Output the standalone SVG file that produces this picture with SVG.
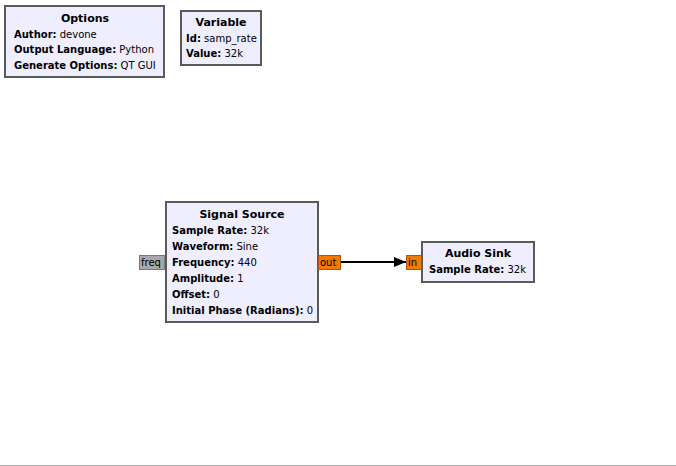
<svg xmlns="http://www.w3.org/2000/svg" width="676" height="466" viewBox="0 0 676 466">
<style>
.blk{fill:#eeeeff;stroke:#5a5a5a;stroke-width:2}
text{font-family:"DejaVu Sans",sans-serif;font-size:10px;fill:#000}
.t{font-weight:bold;text-anchor:middle;font-size:11px}
.k{font-weight:bold}
.pg{fill:#a8a8a8;stroke:#7a7a7a;stroke-width:1}
.po{fill:#f37a00;stroke:#b0501a;stroke-width:1}
.pt{font-size:10px}
</style>
<defs>
<marker id="ah" markerWidth="12" markerHeight="10" refX="12" refY="5" orient="auto" markerUnits="userSpaceOnUse">
<path d="M0,0 L12,5 L0,10 z" fill="#000"/>
</marker>
</defs>
<rect x="0" y="0" width="676" height="466" fill="#fff"/>
<line x1="0" y1="465.5" x2="676" y2="465.5" stroke="#aaaaaa" stroke-width="1"/>
<g id="options">
<rect class="blk" x="5" y="6" width="159" height="71"/>
<text class="t" x="85" y="22">Options</text>
<text x="14" y="38"><tspan class="k">Author:</tspan> devone</text>
<text x="14" y="53"><tspan class="k">Output Language:</tspan> Python</text>
<text x="14" y="69"><tspan class="k">Generate Options:</tspan> QT GUI</text>
</g>
<g id="variable">
<rect class="blk" x="181" y="11" width="80" height="54"/>
<text class="t" x="221" y="26">Variable</text>
<text x="186" y="42"><tspan class="k">Id:</tspan> samp_rate</text>
<text x="186" y="57"><tspan class="k">Value:</tspan> 32k</text>
</g>
<g id="signal_source">
<rect class="blk" x="166" y="202" width="152" height="120"/>
<text class="t" x="242" y="218">Signal Source</text>
<text x="172" y="234"><tspan class="k">Sample Rate:</tspan> 32k</text>
<text x="172" y="250"><tspan class="k">Waveform:</tspan> Sine</text>
<text x="172" y="266"><tspan class="k">Frequency:</tspan> 440</text>
<text x="172" y="282"><tspan class="k">Amplitude:</tspan> 1</text>
<text x="172" y="298"><tspan class="k">Offset:</tspan> 0</text>
<text x="172" y="314"><tspan class="k">Initial Phase (Radians):</tspan> 0</text>
<rect class="pg" x="139.5" y="255.5" width="25" height="14"/>
<text class="pt" x="141" y="266">freq</text>
<rect class="po" x="318.5" y="255.5" width="22" height="14"/>
<text class="pt" x="320" y="266">out</text>
</g>
<g id="audio_sink">
<rect class="blk" x="422" y="242" width="112" height="40"/>
<text class="t" x="478" y="257">Audio Sink</text>
<text x="429" y="273"><tspan class="k">Sample Rate:</tspan> 32k</text>
<rect class="po" x="406.5" y="255.5" width="15" height="14"/>
<text class="pt" x="408" y="266">in</text>
</g>
<g id="connectors">
<line x1="341" y1="262" x2="406" y2="262" stroke="#000" stroke-width="2" marker-end="url(#ah)"/>
</g>
</svg>
